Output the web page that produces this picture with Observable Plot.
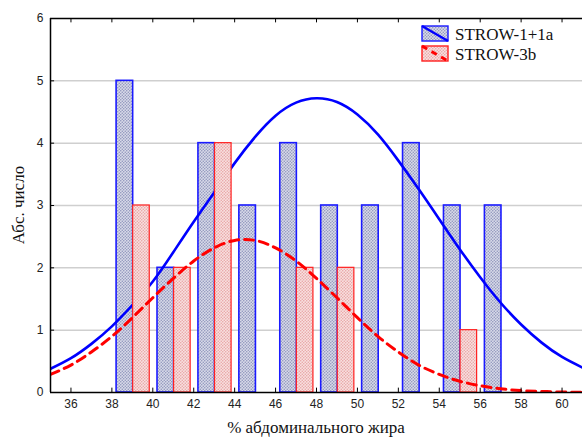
<!DOCTYPE html>
<html><head><meta charset="utf-8">
<script src="https://cdn.jsdelivr.net/npm/d3@7"></script>
<script src="https://cdn.jsdelivr.net/npm/@observablehq/plot@0.6"></script>
<style>
body{margin:0;background:#fff;}
#chart{position:relative;width:582px;height:437px;overflow:hidden;}
</style>
</head><body><div id="chart"></div>
<script>
// Histogram bins (centres, % abdominal fat) and counts
const bins = [37, 39, 41, 43, 45, 47, 49, 51, 53, 55, 57];
const countsBlue = [0, 5, 2, 4, 3, 4, 3, 3, 4, 3, 3];
const countsRed  = [0, 3, 2, 4, 0, 2, 2, 0, 0, 1, 0];
// Fitted normal curves
const curveX    = [35, 36, 37, 38, 39, 40, 41, 42, 43, 44, 45, 46, 47, 48, 49, 50, 51, 52, 53, 54, 55, 56, 57, 58, 59, 60, 61];
const curveBlue = [0.38, 0.55, 0.78, 1.06, 1.40, 1.78, 2.25, 2.74, 3.21, 3.68, 4.10, 4.44, 4.65, 4.72, 4.66, 4.46, 4.14, 3.72, 3.26, 2.78, 2.30, 1.85, 1.44, 1.09, 0.80, 0.57, 0.40];
const curveRed  = [0.29, 0.44, 0.65, 0.90, 1.20, 1.52, 1.83, 2.11, 2.32, 2.44, 2.44, 2.32, 2.11, 1.83, 1.52, 1.20, 0.90, 0.65, 0.44, 0.29, 0.18, 0.11, 0.06, 0.03, 0.017, 0.008, 0.004];
const xTicks = [36, 38, 40, 42, 44, 46, 48, 50, 52, 54, 56, 58, 60];
const yTicks = [0, 1, 2, 3, 4, 5, 6];
const seriesNames = ["STROW-1+1a", "STROW-3b"];
const xTitle = "% абдоминального жира";
const yTitle = "Абс. число";

const barsBlue = bins.map((b, i) => ({bin: b, count: countsBlue[i]}));
const barsRed  = bins.map((b, i) => ({bin: b, count: countsRed[i]}));
const lineBlue = curveX.map((x, i) => ({x, y: curveBlue[i]}));
const lineRed  = curveX.map((x, i) => ({x, y: curveRed[i]}));

const W = 0.81, OFF = 0.04;
const tickFont = "Liberation Sans, Arial, sans-serif";

const plot = Plot.plot({
  width: 582, height: 437,
  marginLeft: 50, marginRight: 0, marginTop: 18, marginBottom: 45,
  style: {background: "white", fontFamily: tickFont, fontSize: "12px", color: "#222"},
  x: {domain: [35, 61], label: null},
  y: {domain: [0, 6], label: null},
  marks: [
    Plot.ruleY(yTicks.filter(d => d > 0 && d < 6), {stroke: "#cfcfcf", strokeWidth: 1.5}),
    Plot.rectY(barsBlue, {x1: d => d.bin - W + OFF, x2: d => d.bin + OFF, y1: 0, y2: "count",
      fill: "url(#patBlue)", stroke: "#1a1aff", strokeWidth: 1.6}),
    Plot.line(lineBlue, {x: "x", y: "y", stroke: "#0000ff", strokeWidth: 2.6, curve: "natural", clip: true}),
    Plot.rectY(barsRed, {x1: d => d.bin + OFF, x2: d => d.bin + W + OFF, y1: 0, y2: "count",
      fill: "url(#patRed)", stroke: "#ff2020", strokeWidth: 1.2}),
    Plot.line(lineRed, {x: "x", y: "y", stroke: "#ff0000", strokeWidth: 3, strokeDasharray: "9,6", curve: "natural", clip: true}),
    Plot.ruleY([0], {stroke: "#000", strokeWidth: 1.5}),
    Plot.ruleY([6], {stroke: "#000", strokeWidth: 1.5}),
    Plot.ruleX([35], {stroke: "#000", strokeWidth: 1.5}),
    Plot.ruleX(xTicks, {y1: 0, y2: 0.07, stroke: "#000"}),
    Plot.ruleX(xTicks, {y1: 6, y2: 5.93, stroke: "#000"}),
    Plot.ruleY(yTicks, {x1: 35, x2: 35.2, stroke: "#000"}),
    Plot.axisX(xTicks, {tickSize: 0, tickPadding: 7, fontSize: 12, fill: "#222", tickFormat: d => String(d)}),
    Plot.axisY(yTicks, {tickSize: 0, tickPadding: 7, fontSize: 12, fill: "#222", tickFormat: d => String(d)})
  ]
});

const svg = d3.select(plot);
const defs = svg.insert("defs", ":first-child");
function pattern(id, bg, dot) {
  const p = defs.append("pattern").attr("id", id).attr("patternUnits", "userSpaceOnUse")
    .attr("width", 3).attr("height", 3);
  p.append("rect").attr("width", 3).attr("height", 3).attr("fill", bg);
  p.append("circle").attr("cx", 0.75).attr("cy", 0.75).attr("r", 0.75).attr("fill", dot);
  p.append("circle").attr("cx", 2.25).attr("cy", 2.25).attr("r", 0.75).attr("fill", dot);
}
pattern("patBlue", "#d8dae9", "#8a90b8");
pattern("patRed", "#f9e0e0", "#e6a0a0");

const serif = "Liberation Serif, Times New Roman, serif";
// Legend
const leg = svg.append("g").attr("text-anchor", "start");
[["patBlue", "#1a1aff", "#0000ff", null, 2.4, 26], ["patRed", "#ff2020", "#ff0000", "6,5", 3, 46]].forEach(([pat, border, line, dash, sw, y0], i) => {
  leg.append("rect").attr("x", 422).attr("y", y0).attr("width", 26).attr("height", 15)
    .attr("fill", `url(#${pat})`).attr("stroke", border).attr("stroke-width", 1.4);
  const l = leg.append("line").attr("x1", 422).attr("y1", y0).attr("x2", 448).attr("y2", y0 + 15)
    .attr("stroke", line).attr("stroke-width", sw);
  if (dash) l.attr("stroke-dasharray", dash);
  leg.append("text").attr("x", 455).attr("y", y0 + 14).attr("text-anchor", "start").attr("font-family", serif)
    .attr("font-size", 17).attr("fill", "#111").text(seriesNames[i]);
});
// Axis titles
svg.append("text").attr("x", 316).attr("y", 433).attr("text-anchor", "middle")
  .attr("font-family", serif).attr("font-size", 17).attr("fill", "#111").text(xTitle);
svg.append("text").attr("transform", "translate(24,205) rotate(-90)").attr("text-anchor", "middle")
  .attr("font-family", serif).attr("font-size", 17).attr("fill", "#111").text(yTitle);

document.getElementById("chart").appendChild(plot);
</script>
</body></html>
